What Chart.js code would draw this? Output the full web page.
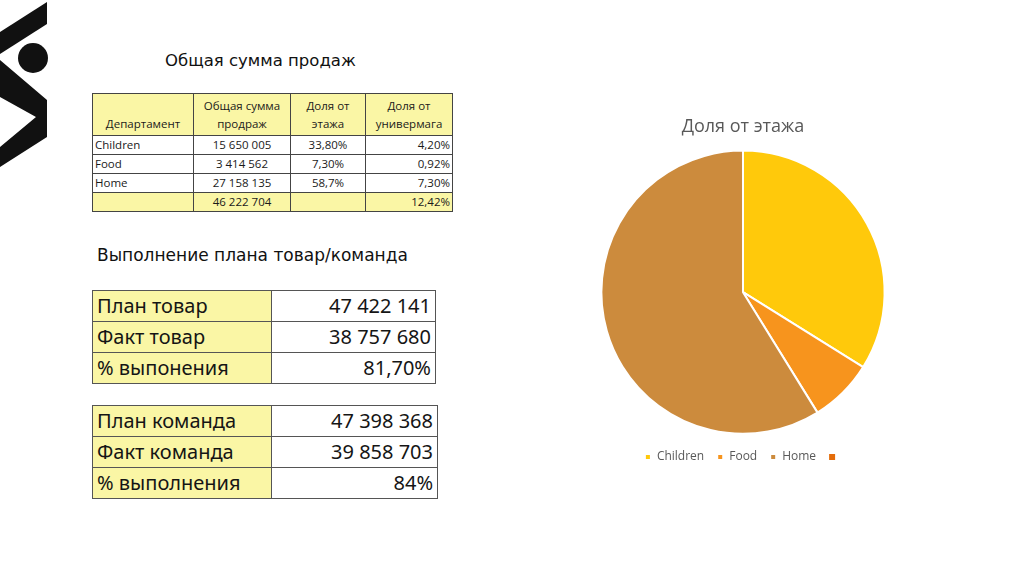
<!DOCTYPE html>
<html>
<head>
<meta charset="utf-8">
<script src="https://cdn.jsdelivr.net/npm/chart.js@4.4.0/dist/chart.umd.min.js"></script>
<style>
  body { margin: 0; width: 1024px; height: 574px; background: #fff; position: relative; overflow: hidden; }
  .h { position: absolute; font-family: "DejaVu Sans", sans-serif; color: #111; white-space: nowrap; }
  table { position: absolute; border-collapse: collapse; table-layout: fixed; }
  #t1 { left: 92px; top: 93px; font-family: "Open Sans", sans-serif; font-size: 11.5px; color: #1a1a1a; }
  #t1 td { border: 1px solid #444; padding: 0 2px; height: 18px; line-height: 14px; white-space: nowrap; }
  #t1 tr.head td { height: 39px; text-align: center; vertical-align: bottom; padding-bottom: 2px; line-height: 18px; }
  .y { background: #faf6a5; }
  .plan { left: 92px; font-family: "Noto Sans", sans-serif; font-size: 20px; color: #151515; }
  .plan td { border: 1px solid #555; height: 30px; padding: 0 4px; line-height: 22px; white-space: nowrap; }
  .plan td.v { text-align: right; }
</style>
</head>
<body>
<svg style="position:absolute;left:0;top:0" width="50" height="175">
  <polygon points="47,2 47,24 0,54 0,32" fill="#111"/>
  <circle cx="33" cy="58" r="15" fill="#111"/>
  <polygon points="0,60 47,100 47,137 0,167 0,147 36,117 0,97" fill="#111"/>
</svg>

<div class="h" style="left:165px;top:51px;font-size:16.5px">Общая сумма продаж</div>
<table id="t1"></table>

<div class="h" style="left:97px;top:245px;font-size:17px">Выполнение плана товар/команда</div>
<table id="t2" class="plan" style="top:290px"></table>
<table id="t3" class="plan" style="top:405px"></table>

<canvas id="pie" width="366" height="364" style="position:absolute;left:560px;top:109px"></canvas>

<script>
// данные
const departments = ['Children', 'Food', 'Home'];
const salesTotal = ['15 650 005', '3 414 562', '27 158 135'];
const floorShareText = ['33,80%', '7,30%', '58,7%'];
const storeShareText = ['4,20%', '0,92%', '7,30%'];
const grandTotal = '46 222 704';
const grandStoreShare = '12,42%';

const goodsLabels = ['План товар', 'Факт товар', '% выпонения'];
const goodsValues = ['47 422 141', '38 757 680', '81,70%'];
const teamLabels = ['План команда', 'Факт команда', '% выполнения'];
const teamValues = ['47 398 368', '39 858 703', '84%'];

const pieLabels = ['Children', 'Food', 'Home', ''];
const pieValues = [33.8, 7.3, 58.7, 0];
const pieColors = ['#ffc90b', '#f7941d', '#cc8b3d', '#e46c0a'];

// таблица 1
const t1 = document.getElementById('t1');
const colW = [101, 97, 75, 87];
let html = '<colgroup>' + colW.map(w => '<col style="width:' + w + 'px">').join('') + '</colgroup>';
html += '<tr class="head y"><td>Департамент</td><td>Общая сумма<br>продраж</td><td>Доля от<br>этажа</td><td>Доля от<br>универмага</td></tr>';
departments.forEach((d, i) => {
    html += '<tr><td>' + d + '</td><td style="text-align:center">' + salesTotal[i] +
        '</td><td style="text-align:center">' + floorShareText[i] +
        '</td><td style="text-align:right">' + storeShareText[i] + '</td></tr>';
});
html += '<tr class="y"><td></td><td style="text-align:center">' + grandTotal +
    '</td><td></td><td style="text-align:right">' + grandStoreShare + '</td></tr>';
t1.innerHTML = html;

function planTable(id, labels, values, w2) {
    let s = '<colgroup><col style="width:179px"><col style="width:' + w2 + 'px"></colgroup>';
    labels.forEach((l, i) => {
        s += '<tr><td class="y">' + l + '</td><td class="v">' + values[i] + '</td></tr>';
    });
    document.getElementById(id).innerHTML = s;
}
planTable('t2', goodsLabels, goodsValues, 164);
planTable('t3', teamLabels, teamValues, 166);

// круговая диаграмма
new Chart(document.getElementById('pie'), {
    type: 'pie',
    data: {
        labels: pieLabels,
        datasets: [{
            data: pieValues,
            backgroundColor: pieColors,
            borderColor: '#ffffff',
            borderWidth: [2, 2, 2, 0]
        }]
    },
    options: {
        responsive: false,
        animation: false,
        plugins: {
            title: {
                display: true,
                text: 'Доля от этажа',
                color: '#595959',
                font: { family: 'Open Sans', size: 18, weight: 'normal' },
                padding: { top: 7, bottom: 12 }
            },
            legend: {
                position: 'bottom',
                title: { display: true, text: '', font: { size: 1 }, padding: { top: 2, bottom: 0 } },
                labels: {
                    boxWidth: 6,
                    boxHeight: 6,
                    padding: 13,
                    color: '#595959',
                    font: { family: 'Open Sans', size: 12 }
                }
            },
            tooltip: { enabled: false }
        }
    }
});
</script>
</body>
</html>
